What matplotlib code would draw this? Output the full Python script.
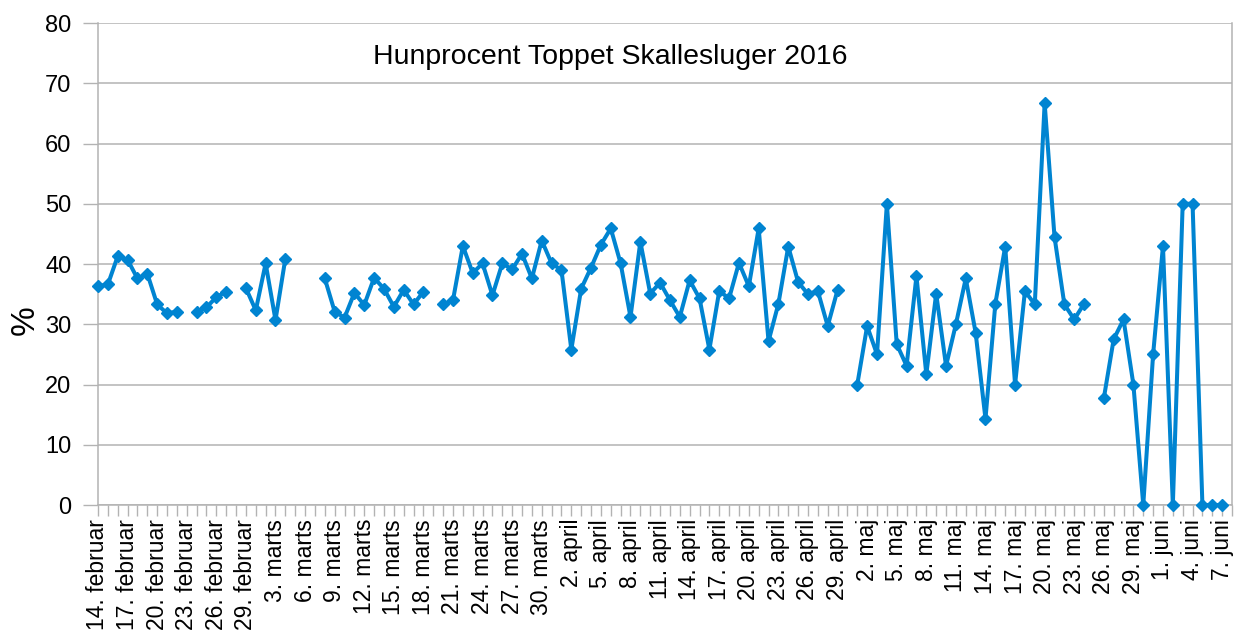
import matplotlib
matplotlib.use("Agg")
import matplotlib.pyplot as plt
import numpy as np

plt.rcParams['font.family'] = ['Liberation Sans', 'DejaVu Sans']

# daily values, 14 Feb 2016 .. 7 Jun 2016 (None = no data)
values = [
    36.3, 36.6, 41.3, 40.7, 37.6, 38.4, 33.3, 31.8, 32.1, None,
    32.1, 32.8, 34.5, 35.4, None, 36.0, 32.3, 40.1, 30.7, 40.9,
    None, None, None, 37.6, 32.1, 31.1, 35.2, 33.2, 37.7, 35.9,
    32.9, 35.7, 33.3, 35.4, None, 33.3, 34.0, 43.0, 38.5, 40.1,
    34.8, 40.1, 39.1, 41.7, 37.6, 43.9, 40.1, 39.0, 25.8, 35.9,
    39.4, 43.2, 45.9, 40.1, 31.2, 43.7, 35.1, 36.9, 34.0, 31.2,
    37.3, 34.3, 25.8, 35.5, 34.3, 40.2, 36.3, 45.9, 27.2, 33.4,
    42.9, 37.0, 35.0, 35.5, 29.7, 35.7, None, 20.0, 29.7, 25.0,
    50.0, 26.7, 23.1, 38.0, 21.7, 35.1, 23.1, 30.0, 37.6, 28.6,
    14.3, 33.4, 42.9, 20.0, 35.5, 33.3, 66.7, 44.5, 33.3, 30.8,
    33.4, None, 17.7, 27.5, 30.8, 20.0, 0.0, 25.0, 43.0, 0.0,
    50.0, 50.0, 0.0, 0.0, 0.0,
]

# labels shown every third day
tick_labels = [
    "14. februar", "17. februar", "20. februar", "23. februar", "26. februar", "29. februar",
    "3. marts", "6. marts", "9. marts", "12. marts", "15. marts", "18. marts",
    "21. marts", "24. marts", "27. marts", "30. marts",
    "2. april", "5. april", "8. april", "11. april", "14. april", "17. april",
    "20. april", "23. april", "26. april", "29. april",
    "2. maj", "5. maj", "8. maj", "11. maj", "14. maj", "17. maj",
    "20. maj", "23. maj", "26. maj", "29. maj",
    "1. juni", "4. juni", "7. juni",
]
label_step = 3

title = "Hunprocent Toppet Skallesluger 2016"
y_ticks = list(range(0, 81, 10))

y = np.array([np.nan if v is None else v for v in values], dtype=float)
x = np.arange(len(y))

W, H = 1234, 630
fig = plt.figure(figsize=(W / 100, H / 100), dpi=100)
L, R, T, B = 98, 1232, 23, 505
ax = fig.add_axes([L / W, 1 - B / H, (R - L) / W, (B - T) / H])

grid_c = '#b3b3b3'
line_c = '#0084d1'

ax.plot(x, y, color=line_c, lw=2.9, marker='D', ms=6.3, mec=line_c, mfc=line_c,
        solid_joinstyle='round', zorder=3, clip_on=False)

ax.set_xlim(0, len(y))
ax.set_ylim(0, 80)
ax.set_yticks(y_ticks)
ax.set_yticklabels([str(t) for t in y_ticks], fontsize=17)
ax.yaxis.grid(True, color=grid_c, lw=1.1)
ax.set_axisbelow(True)

allticks = np.arange(0, len(y) + 1)
ax.set_xticks(allticks)
labs = [''] * len(allticks)
for i, lab in enumerate(tick_labels):
    labs[i * label_step] = lab
ax.set_xticklabels(labs, rotation=90, fontsize=16.5, va='top', ha='center')

ax.tick_params(axis='x', length=8, width=1, color=grid_c, pad=2)
ax.tick_params(axis='y', length=11, width=1, color=grid_c, pad=8)

for s in ['left', 'bottom', 'right']:
    ax.spines[s].set_color(grid_c)
    ax.spines[s].set_linewidth(1.1)
ax.spines['top'].set_visible(False)

ax.text((610 - L) / (R - L), (B - 57) / (B - T), title, transform=ax.transAxes,
        ha='center', va='center', fontsize=20.5)

fig.text(25 / W, 1 - 320 / H, '%', rotation=90, ha='center', va='center', fontsize=24)

fig.savefig('out.png', dpi=100)
